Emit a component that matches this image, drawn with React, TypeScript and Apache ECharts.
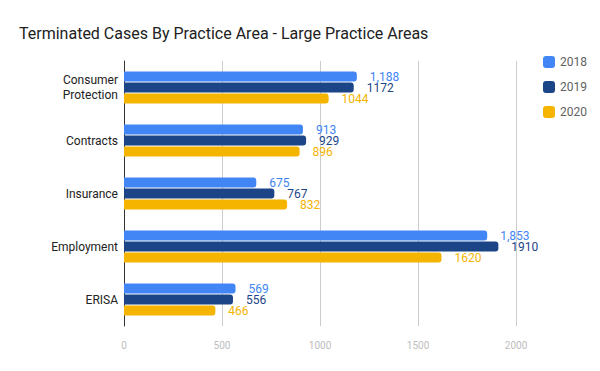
import React, { useEffect, useRef } from "react";
import * as echarts from "echarts";

const categories = ["Consumer\nProtection", "Contracts", "Insurance", "Employment", "ERISA"];
const years = ["2018", "2019", "2020"];
const values2018 = [1188, 913, 675, 1853, 569];
const values2019 = [1172, 929, 767, 1910, 556];
const values2020 = [1044, 896, 832, 1620, 466];
const colors = ["#4285f4", "#1c4587", "#f4b400"];
const xTicks = [0, 500, 1000, 1500, 2000];

export default function App() {
  const ref = useRef<HTMLDivElement>(null);
  useEffect(() => {
    const chart = echarts.init(ref.current!, null, { renderer: "svg" });
    const seriesData = [values2018, values2019, values2020];
    chart.setOption({
      animation: false,
      backgroundColor: "#ffffff",
      title: {
        text: "Terminated Cases By Practice Area - Large Practice Areas",
        left: 14,
        top: 20,
        textStyle: { fontFamily: "Roboto", fontSize: 16, fontWeight: "normal", color: "#212121" },
      },
      legend: {
        orient: "vertical",
        left: 538,
        top: 51,
        itemWidth: 12,
        itemHeight: 12,
        itemGap: 13,
        icon: "roundRect",
        textStyle: { fontFamily: "Roboto", fontSize: 12, color: "#616161" },
        data: years,
      },
      grid: { left: 124, right: 84, top: 61, bottom: 45, containLabel: false },
      xAxis: {
        type: "value",
        min: xTicks[0],
        max: xTicks[xTicks.length - 1],
        interval: 500,
        axisLine: { show: false },
        axisTick: { show: false },
        splitLine: { lineStyle: { color: "#cccccc" } },
        axisLabel: {
          fontFamily: "Roboto",
          fontSize: 10,
          color: "#bdbdbd",
          margin: 14,
          formatter: (v: number) => String(v),
        },
      },
      yAxis: {
        type: "category",
        inverse: true,
        data: categories,
        axisLine: { lineStyle: { color: "#333333" } },
        axisTick: { show: false },
        axisLabel: { fontFamily: "Roboto", fontSize: 12, color: "#222222", margin: 6, lineHeight: 15 },
      },
      series: years.map((y, i) => ({
        name: y,
        type: "bar",
        data: seriesData[i],
        barWidth: 10,
        barGap: "10%",
        itemStyle: { color: colors[i], borderRadius: [0, 3, 3, 0] },
        label: {
          show: true,
          position: "right",
          distance: 13,
          fontFamily: "Roboto",
          fontSize: 12,
          lineHeight: 10,
          color: colors[i],
          formatter: (p: any) => (i === 0 ? p.value.toLocaleString("en-US") : String(p.value)),
        },
      })),
    });
    return () => chart.dispose();
  }, []);
  return <div ref={ref} style={{ width: 600, height: 371, position: "absolute", left: 0, top: 0 }} />;
}
